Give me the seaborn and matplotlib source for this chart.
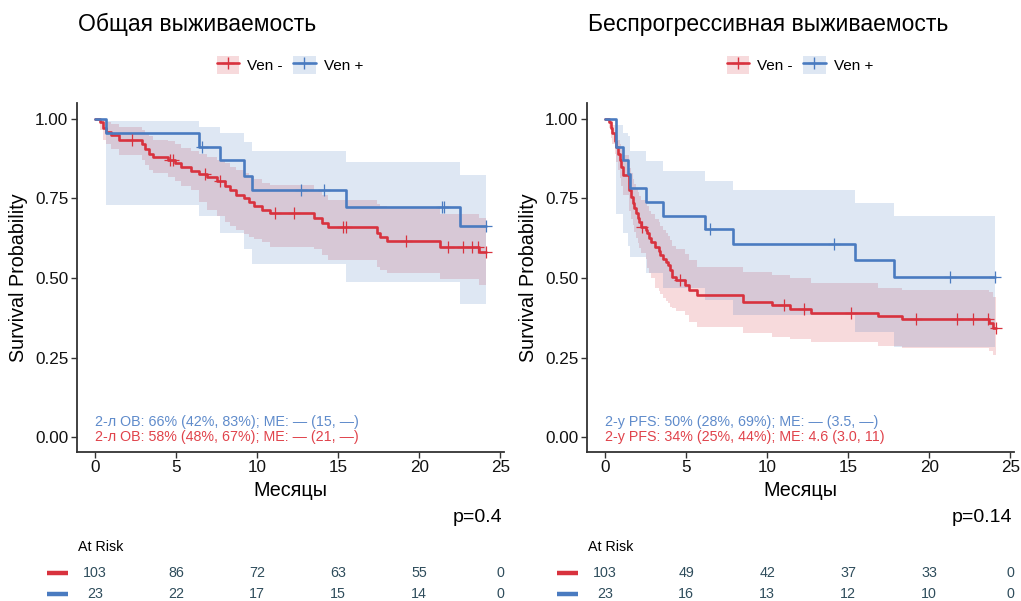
import numpy as np
import matplotlib
matplotlib.use("Agg")
import matplotlib.pyplot as plt
import matplotlib.transforms as mtransforms
from matplotlib.patches import Patch
from matplotlib.lines import Line2D
from matplotlib.legend_handler import HandlerTuple
import seaborn as sns

# ---------------- data ----------------
groups = ["Ven -", "Ven +"]
titles = ["Общая выживаемость", "Беспрогрессивная выживаемость"]
x_label = "Месяцы"
y_label = "Survival Probability"
x_ticks = [0, 5, 10, 15, 20, 25]
y_ticks = [0.0, 0.25, 0.50, 0.75, 1.00]
p_values = ["p=0.4", "p=0.14"]
risk_times = [0, 5, 10, 15, 20, 25]

# Overall survival, Ven -
os_neg_t = [0, 0.3, 0.5, 0.7, 1.0, 1.5, 2.9, 3.1, 3.3, 3.6, 4.5, 4.9, 5.3, 5.9, 6.4, 6.9, 7.5,
            8.0, 8.3, 8.7, 9.2, 9.5, 9.8, 10.3, 10.8, 13.5, 14.0, 14.4, 17.4, 17.6, 18.0, 21.3, 23.7]
os_neg_s = [1.0, 0.99, 0.97, 0.96, 0.95, 0.935, 0.92, 0.905, 0.89, 0.88, 0.87, 0.86, 0.848, 0.836,
            0.826, 0.816, 0.806, 0.79, 0.775, 0.76, 0.75, 0.738, 0.725, 0.714, 0.703, 0.688, 0.672,
            0.661, 0.641, 0.630, 0.617, 0.598, 0.583]
os_neg_lo = [1.0, 0.965, 0.935, 0.92, 0.905, 0.885, 0.87, 0.855, 0.84, 0.83, 0.818, 0.806, 0.79,
             0.775, 0.74, 0.715, 0.695, 0.675, 0.662, 0.65, 0.638, 0.63, 0.622, 0.612, 0.598, 0.591,
             0.572, 0.557, 0.535, 0.525, 0.515, 0.498, 0.478]
os_neg_hi = [1.0, 1.0, 0.995, 0.99, 0.985, 0.975, 0.965, 0.955, 0.945, 0.935, 0.93, 0.92, 0.91,
             0.90, 0.89, 0.88, 0.87, 0.86, 0.85, 0.84, 0.83, 0.82, 0.81, 0.80, 0.792, 0.775, 0.76,
             0.745, 0.732, 0.726, 0.72, 0.70, 0.69]
os_neg_cens = [2.3, 4.6, 4.8, 6.8, 7.7, 11.1, 12.3, 15.3, 15.5, 19.2, 21.8, 22.7, 23.25, 23.6, 24.1]

# Overall survival, Ven +
os_pos_t = [0, 0.68, 6.4, 7.7, 9.2, 9.7, 15.5, 22.5]
os_pos_s = [1.0, 0.957, 0.913, 0.870, 0.822, 0.777, 0.724, 0.664]
os_pos_lo = [1.0, 0.73, 0.695, 0.642, 0.591, 0.543, 0.486, 0.418]
os_pos_hi = [1.0, 0.994, 0.976, 0.955, 0.927, 0.899, 0.866, 0.824]
os_pos_cens = [6.6, 12.7, 14.1, 21.4, 21.55, 24.1]

# Progression-free survival, Ven -
pfs_neg_t = [0, 0.25, 0.35, 0.45, 0.6, 0.7, 0.8, 0.9, 1.0, 1.1, 1.45, 1.5, 1.6, 1.7, 1.8, 1.9,
             2.0, 2.1, 2.2, 2.5, 2.6, 2.7, 2.85, 3.1, 3.3, 3.4, 3.6, 3.75, 3.9, 4.0, 4.15, 4.4,
             4.9, 5.15, 5.65, 8.5, 10.3, 11.4, 12.7, 16.85, 18.3, 23.7, 23.95]
pfs_neg_s = [1.0, 0.99, 0.97, 0.955, 0.93, 0.913, 0.89, 0.87, 0.85, 0.824, 0.80, 0.777, 0.755,
             0.735, 0.72, 0.703, 0.69, 0.677, 0.661, 0.65, 0.64, 0.625, 0.614, 0.598, 0.585,
             0.572, 0.561, 0.551, 0.54, 0.525, 0.504, 0.494, 0.478, 0.462, 0.447, 0.425, 0.415,
             0.402, 0.391, 0.380, 0.370, 0.359, 0.344]
pfs_neg_lo = [1.0, 0.97, 0.94, 0.92, 0.89, 0.865, 0.84, 0.815, 0.79, 0.76, 0.735, 0.71, 0.685,
              0.665, 0.645, 0.625, 0.61, 0.595, 0.578, 0.56, 0.53, 0.515, 0.50, 0.468, 0.46,
              0.45, 0.436, 0.428, 0.42, 0.41, 0.405, 0.395, 0.384, 0.363, 0.347, 0.326, 0.315,
              0.308, 0.30, 0.286, 0.279, 0.27, 0.258]
pfs_neg_hi = [1.0, 1.0, 0.99, 0.98, 0.965, 0.95, 0.935, 0.92, 0.905, 0.885, 0.865, 0.845, 0.83,
              0.81, 0.795, 0.78, 0.77, 0.758, 0.745, 0.735, 0.725, 0.71, 0.70, 0.685, 0.675,
              0.662, 0.652, 0.642, 0.632, 0.618, 0.60, 0.59, 0.575, 0.555, 0.535, 0.52, 0.509,
              0.499, 0.485, 0.47, 0.462, 0.455, 0.44]
pfs_neg_cens = [2.25, 4.62, 11.05, 12.3, 15.2, 19.2, 21.7, 22.7, 23.6, 24.1]

# Progression-free survival, Ven +
pfs_pos_t = [0, 0.68, 1.13, 1.4, 1.55, 2.53, 3.56, 6.17, 7.9, 15.4, 17.8]
pfs_pos_s = [1.0, 0.913, 0.870, 0.826, 0.783, 0.739, 0.696, 0.653, 0.606, 0.555, 0.504]
pfs_pos_lo = [1.0, 0.70, 0.64, 0.60, 0.567, 0.515, 0.468, 0.43, 0.384, 0.331, 0.282]
pfs_pos_hi = [1.0, 0.98, 0.955, 0.945, 0.90, 0.868, 0.836, 0.805, 0.778, 0.736, 0.694]
pfs_pos_cens = [6.5, 14.1, 21.3, 24.05]

# At-risk tables
os_risk_neg = [103, 86, 72, 63, 55, 0]
os_risk_pos = [23, 22, 17, 15, 14, 0]
pfs_risk_neg = [103, 49, 42, 37, 33, 0]
pfs_risk_pos = [23, 16, 13, 12, 10, 0]

# Summary annotations
os_notes = ["2-л ОВ: 66% (42%, 83%); ME: — (15, —)", "2-л ОВ: 58% (48%, 67%); ME: — (21, —)"]
pfs_notes = ["2-y PFS: 50% (28%, 69%); ME: — (3.5, —)", "2-y PFS: 34% (25%, 44%); ME: 4.6 (3.0, 11)"]

# ---------------- style ----------------
sns.set_theme(style="ticks")
plt.rcParams["font.family"] = ["Liberation Sans", "DejaVu Sans"]
plt.rcParams["text.color"] = "black"
plt.rcParams["axes.labelcolor"] = "black"

RED = "#D8323E"
BLUE = "#4A7BC0"
RED_TXT = "#E0434B"
BLUE_TXT = "#5F8BCB"
NUM_COL = "#2F4D5C"
AXC = "#333333"
BAND_ALPHA = 0.18

W, H = 1021, 601
fig = plt.figure(figsize=(W / 100, H / 100), dpi=100)


def fx(px):
    return px / W


def fy(py):
    return 1 - py / H


TOP, BOTTOM = 103, 452
AX_W = 427
lefts = [76.5, 586.5]
XLIM = (-1.15, 25.2)
YLIM = (-0.047, 1.05)

panels = [
    dict(neg=(os_neg_t, os_neg_s, os_neg_lo, os_neg_hi, os_neg_cens),
         pos=(os_pos_t, os_pos_s, os_pos_lo, os_pos_hi, os_pos_cens),
         risk=(os_risk_neg, os_risk_pos), notes=os_notes),
    dict(neg=(pfs_neg_t, pfs_neg_s, pfs_neg_lo, pfs_neg_hi, pfs_neg_cens),
         pos=(pfs_pos_t, pfs_pos_s, pfs_pos_lo, pfs_pos_hi, pfs_pos_cens),
         risk=(pfs_risk_neg, pfs_risk_pos), notes=pfs_notes),
]


def draw_band(ax, data, color):
    t, s, lo, hi, cens = data
    end = max(cens[-1], t[-1])
    t_ext = np.array(list(t) + [end])
    s_ext = np.array(list(s) + [s[-1]])
    lo_ext = np.array(list(lo) + [lo[-1]])
    hi_ext = np.array(list(hi) + [hi[-1]])
    ax.fill_between(t_ext, lo_ext, hi_ext, step="post", color=color,
                    alpha=BAND_ALPHA, linewidth=0)
    return t_ext, s_ext


for i, (panel, left) in enumerate(zip(panels, lefts)):
    ax = fig.add_axes([fx(left), fy(BOTTOM), AX_W / W, (BOTTOM - TOP) / H])
    curves = []
    for key, color in (("neg", RED), ("pos", BLUE)):
        curves.append((panel[key], draw_band(ax, panel[key], color), color))
    for data, (t_ext, s_ext), color in curves:
        sns.lineplot(x=t_ext, y=s_ext, ax=ax, color=color, linewidth=1.9,
                     drawstyle="steps-post", estimator=None, sort=False)
        t, s, lo, hi, cens = data
        idx = np.searchsorted(np.array(t), np.array(cens), side="right") - 1
        cy = np.array(s)[idx]
        sns.scatterplot(x=cens, y=cy, ax=ax, marker="+", s=85, color=color,
                        linewidth=0.9, zorder=5)

    ax.set_xlim(*XLIM)
    ax.set_ylim(*YLIM)
    ax.set_xticks(x_ticks)
    ax.set_yticks(y_ticks)
    ax.set_yticklabels([f"{v:.2f}" for v in y_ticks])
    ax.tick_params(axis="both", labelsize=12.3, length=4, width=1.0, color=AXC,
                   labelcolor="#111111", pad=2)
    for sp in ("top", "right"):
        ax.spines[sp].set_visible(False)
    for sp in ("left", "bottom"):
        ax.spines[sp].set_color(AXC)
        ax.spines[sp].set_linewidth(1.3)
    ax.set_xlabel(x_label, fontsize=14.2, labelpad=4, color="black")
    ax.set_ylabel(y_label, fontsize=14.2, labelpad=5, color="black")

    # annotations
    ax.text(0, 0.047, panel["notes"][0], color=BLUE_TXT, fontsize=10.3, va="center", ha="left")
    ax.text(0, 0.0, panel["notes"][1], color=RED_TXT, fontsize=10.3, va="center", ha="left")

    # title
    fig.text(fx(left + 1), fy(24), titles[i], fontsize=16.5, ha="left", va="center",
             color="black")

    # legend
    handles = []
    for color in (RED, BLUE):
        p = Patch(facecolor=color, alpha=BAND_ALPHA, edgecolor="none")
        ln = Line2D([], [], color=color, linewidth=1.9, marker="+", markersize=9,
                    markeredgewidth=1.0)
        handles.append((p, ln))
    leg = ax.legend(handles, groups, handler_map={tuple: HandlerTuple(ndivide=1)},
                    loc="center", bbox_to_anchor=(0.5, (BOTTOM - 65) / (BOTTOM - TOP)),
                    ncol=2, frameon=False, fontsize=11, handlelength=1.45, handleheight=1.45,
                    handletextpad=0.55, columnspacing=0.7)
    for txt in leg.get_texts():
        txt.set_color("black")

    # p-value
    fig.text(fx(left + AX_W - 1), fy(518), p_values[i], fontsize=14, ha="right", va="center",
             color="black")

    # at-risk table
    fig.text(fx(left + 1), fy(547), "At Risk", fontsize=10.3, ha="left", va="center",
             color="black")
    trans = mtransforms.blended_transform_factory(ax.transData, fig.transFigure)
    for row_y, counts, color in ((573, panel["risk"][0], RED), (594, panel["risk"][1], BLUE)):
        for tt, n in zip(risk_times, counts):
            fig.text(tt, fy(row_y), str(n), transform=trans, fontsize=10.3,
                     color=NUM_COL, ha="center", va="center")
        fig.add_artist(Line2D([fx(left - 30), fx(left - 9)], [fy(row_y), fy(row_y)],
                              transform=fig.transFigure, color=color, linewidth=3.2,
                              solid_capstyle="butt"))

fig.savefig("out.png", dpi=100)
